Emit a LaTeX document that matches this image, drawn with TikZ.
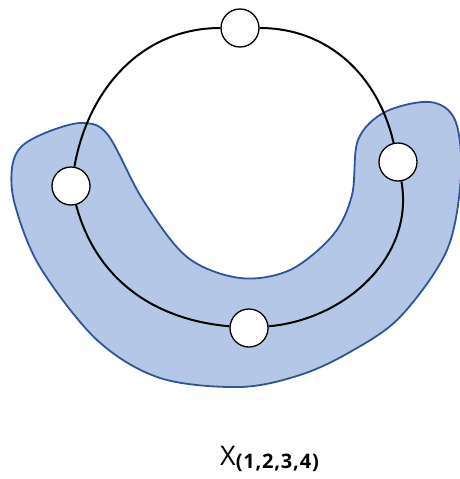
\documentclass[tikz,border=0pt]{standalone}
\usepackage{fontspec}
\setmainfont{Open Sans}
\usepackage{tikz}
\usetikzlibrary{positioning}
\definecolor{setfill}{HTML}{B4C7E7}
\definecolor{setline}{HTML}{2F5597}
\tikzset{
  setregion/.style={draw=setline,fill=setfill,line width=1.8pt},
  vertexnode/.style={circle,draw=black,fill=white,line width=1.3pt,
                     minimum size=38pt,inner sep=0pt},
  cycleedge/.style={black,line width=2pt},
  setlabel/.style={inner sep=0pt,font=\fontsize{27}{29}\selectfont}
}

\begin{document}
\begin{tikzpicture}[x=1pt,y=1pt]
  \useasboundingbox (0,0) rectangle (459,-479);
  % shaded region around the lower part of the cycle
  \draw[setregion] plot[smooth cycle,tension=0.55] coordinates {
    (12,-168) (22,-146) (50,-131) (83,-123) (108,-135) (143,-200)
    (187,-257) (240,-278) (290,-270) (333,-235) (352,-195) (358,-140)
    (385,-112) (430,-102) (455,-120) (461,-175) (447,-250) (400,-317)
    (350,-352) (300,-375) (240,-387) (160,-378) (97,-340) (40,-267)
    (15,-205)};

  \node[vertexnode] (v1) at (240,-28) {};
  \node[vertexnode] (v2) at (398,-162) {};
  \node[vertexnode] (v3) at (249,-328) {};
  \node[vertexnode] (v4) at (71,-186) {};

  \draw[cycleedge] (v1) to[out=0,in=103] (v2);
  \draw[cycleedge] (v2) to[out=-80,in=5] (v3);
  \draw[cycleedge] (v3) to[out=175,in=-75] (v4);
  \draw[cycleedge] (v4) to[out=80,in=180] (v1);

  \node[setlabel,anchor=base west] (lbl) at (220,-465)
    {X\raisebox{-3pt}{\fontsize{20}{22}\selectfont\bfseries\addfontfeatures{LetterSpace=4}(1,2,3,4)}};
\end{tikzpicture}
\end{document}
